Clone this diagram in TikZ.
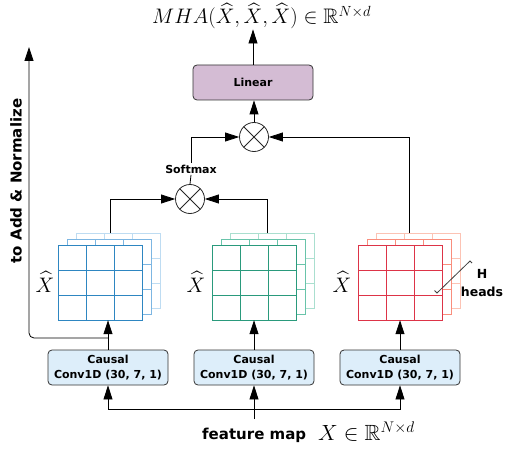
\RequirePackage{fix-cm}
\documentclass[tikz,border=0pt]{standalone}
\usepackage{amssymb}
\usepackage{fontspec}
\setsansfont{DejaVu Sans}
\usetikzlibrary{arrows.meta}
\definecolor{blueA}{RGB}{46,134,193}
\definecolor{blueB}{RGB}{125,182,226}
\definecolor{blueC}{RGB}{190,220,242}
\definecolor{greenA}{RGB}{42,154,124}
\definecolor{greenB}{RGB}{105,196,170}
\definecolor{greenC}{RGB}{170,223,207}
\definecolor{redA}{RGB}{221,52,72}
\definecolor{redB}{RGB}{249,142,125}
\definecolor{redC}{RGB}{252,195,180}
\definecolor{linfill}{RGB}{212,188,212}
\definecolor{convfill}{RGB}{221,238,250}
\newcommand\gridlayer[3]{%
  \filldraw[fill=white, draw=#3, line width=0.9pt] (#1,#2) rectangle ++(84,75);
  \draw[#3, line width=0.9pt] (#1+28,#2) -- ++(0,75) (#1+56,#2) -- ++(0,75)
     (#1,#2+25) -- ++(84,0) (#1,#2+50) -- ++(84,0);
}
\newcommand\gridstack[4]{%
  \gridlayer{#1+18}{233}{#2}
  \gridlayer{#1+9}{239}{#3}
  \gridlayer{#1}{245}{#4}
}
\begin{document}
\begin{tikzpicture}[x=1pt,y=-1pt,
  arr/.style={-{Triangle[length=14pt,width=9pt]}, line width=0.8pt, black},
  conn/.style={line width=0.8pt, black},
  opbox/.style={draw=black!80, line width=0.8pt, rounded corners=4pt, minimum width=120pt, minimum height=35pt, font=\sffamily\bfseries\fontsize{11}{15}\selectfont, align=center, inner sep=0pt},
  mult/.style={circle, draw=black!85, line width=0.8pt, minimum size=29pt, inner sep=0pt,
    path picture={\draw[black!85, line width=0.8pt] (path picture bounding box.north west) -- (path picture bounding box.south east) (path picture bounding box.north east) -- (path picture bounding box.south west);}},
  lbl/.style={font=\sffamily\bfseries\fontsize{11}{13}\selectfont, inner sep=1.5pt},
  mathl/.style={font=\fontsize{21}{24}\selectfont, inner sep=0pt},
  gridnode/.style={minimum width=84pt, minimum height=75pt, inner sep=0pt}
]
\useasboundingbox (0,0) rectangle (505,449);

% stacks
\gridstack{58}{blueC}{blueB}{blueA}
\gridstack{212}{greenC}{greenB}{greenA}
\gridstack{358}{redC}{redB}{redA}
\node[gridnode] (bg) at (100,282.5) {};
\node[gridnode] (gg) at (254,282.5) {};
\node[gridnode] (rg) at (400,282.5) {};
\coordinate (btop) at (110,233);
\coordinate (gtop) at (267,233);
\coordinate (rtop) at (409,233);

% labels X hat
\node[mathl, anchor=base] (xb) at (45,292) {$\widehat{X}$};
\node[mathl, anchor=base] (xg) at (196,292) {$\widehat{X}$};
\node[mathl, anchor=base] (xr) at (342,292) {$\widehat{X}$};

% H heads
\node[lbl, font=\sffamily\bfseries\fontsize{12.5}{17.5}\selectfont, align=center] (hh) at (482,283) {H\\heads};
\draw[black!75, line width=0.8pt] (434.5,290.5) -- (437,293) -- (470,261) -- (472,263);

% operators
\node[opbox, fill=linfill] (lin) at (253,82.5) {Linear};
\node[mult] (m1) at (254,137) {};
\node[mult] (m2) at (190,199) {};
\node[lbl] (sm) at (191,169) {Softmax};

% conv boxes
\node[opbox, fill=convfill] (c1) at (108,367.5) {Causal\\Conv1D (30, 7, 1)};
\node[opbox, fill=convfill] (c2) at (254,367.5) {Causal\\Conv1D (30, 7, 1)};
\node[opbox, fill=convfill] (c3) at (400,367.5) {Causal\\Conv1D (30, 7, 1)};

% top label
\node[mathl, anchor=base west] (mha) at (152,24) {$MHA(\widehat{X},\widehat{X},\widehat{X})\in\mathbb{R}^{N\times d}$};

% side label
\node[font=\sffamily\bfseries\fontsize{15}{18}\selectfont, rotate=90, inner sep=0pt] (add) at (16,181) {to Add \& Normalize};

% bottom labels
\node[font=\sffamily\bfseries\fontsize{15}{18}\selectfont, anchor=base west, inner sep=0pt] (fmt) at (202,439) {feature map};
\node[mathl, font=\fontsize{22}{24}\selectfont, anchor=base west] (xin) at (318,440) {$X\in\mathbb{R}^{N\times d}$};

% connectors
\draw[arr] (lin.north) -- (lin.north |- mha.south);
\draw[arr] (m1.north) -- (m1.north |- lin.south);
\draw[arr] (sm.north) |- (m1.west);
\draw[arr] (rtop) |- (m1.east);
\draw[conn] (m2.north) -- (sm.south);
\draw[arr] (btop) |- (m2.west);
\draw[arr] (gtop) |- (m2.east);

\draw[arr] (c1.north) -- (c1.north |- bg.south);
\draw[arr] (c2.north) -- (c2.north |- gg.south);
\draw[arr] (c3.north) -- (c3.north |- rg.south);

\coordinate (sk) at (108,338);
\coordinate (addtip) at (29,47);
\draw[arr, rounded corners=5pt] (sk) -| (addtip);

\coordinate (fm) at (254,419);
\coordinate (split) at (254,409);
\draw[arr] (fm) -- (c2.south);
\draw[arr] (split) -| (c1.south);
\draw[arr] (split) -| (c3.south);
\end{tikzpicture}
\end{document}
